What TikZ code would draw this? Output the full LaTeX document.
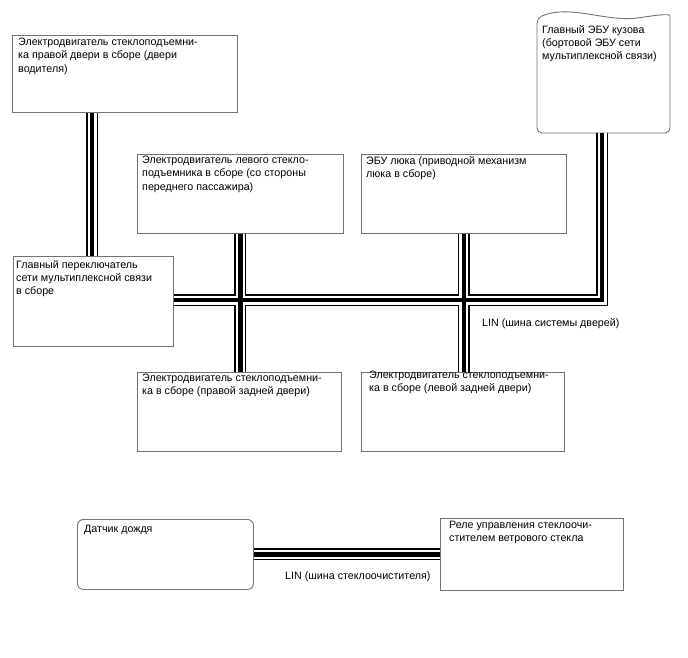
\documentclass[tikz,border=0pt]{standalone}
\usepackage{fontspec}
\setmainfont{Liberation Sans}
\tikzset{
  boxline/.style={draw=black!55, line width=0.9pt},
  box/.style={boxline, rectangle, inner sep=0pt, anchor=north west},
  txt/.style={anchor=north west, inner sep=0pt, align=left, font=\fontsize{10.7}{13.2}\selectfont},
  lbl/.style={anchor=base west, inner sep=0pt, font=\fontsize{10.7}{13.2}\selectfont},
  busouter/.style={draw=black, line width=12pt, line join=miter, line cap=butt},
  busgap/.style={draw=white, line width=9pt, line join=miter, line cap=butt},
  businner/.style={draw=black, line width=4.5pt, line join=miter, line cap=butt},
}
\newcommand\busnet[1]{%
  \draw[#1] ([xshift=80pt]A.south west) -- ([xshift=80pt]A.south west |- B.north);
  \draw[#1] (B.east |- J) -- (J) -- (J |- E.south);
  \draw[#1] (C.south) -- (C.south |- F.north);
  \draw[#1] (D.south) -- (D.south |- G.north);
  \draw[#1] (H.east) -- (I.west);
}
\begin{document}
\begin{tikzpicture}[x=1pt,y=-1pt]
\useasboundingbox[fill=white] (0,0) rectangle (688,658);
% boxes
\node[box, minimum width=225pt, minimum height=77pt] (A) at (12,35) {};
\node[box, minimum width=160pt, minimum height=90pt] (B) at (13,256) {};
\node[box, minimum width=206pt, minimum height=79pt] (C) at (137,154) {};
\node[box, minimum width=205pt, minimum height=79pt] (D) at (361,154) {};
\node[box, minimum width=204pt, minimum height=79pt] (F) at (137,372) {};
\node[box, minimum width=203pt, minimum height=79pt] (G) at (361,372) {};
\node[box, minimum width=176pt, minimum height=70pt, rounded corners=6pt] (H) at (77,519) {};
\node[box, minimum width=183pt, minimum height=72pt] (I) at (440,518) {};
% wavy ECU box
\node[inner sep=0pt, minimum width=133pt, minimum height=118pt, anchor=north west] (E) at (537,15) {};
\draw[boxline] (537,18) .. controls (570,4) and (605,22) .. (637,18)
  .. controls (652,16) and (662,14) .. (670,15)
  [rounded corners=5pt] -- (670,133) -- (537,133) -- cycle;
\coordinate (J) at (602,300);
% buses
\busnet{busouter}
\busnet{busgap}
\busnet{businner}
% texts
\node[txt] (tA) at ([shift={(6,3)}]A.north west) {Электродвигатель стеклоподъемни-\\ка правой двери в сборе (двери\\водителя)};
\node[txt] (tB) at ([shift={(3,4)}]B.north west) {Главный переключатель\\сети мультиплексной связи\\в сборе};
\node[txt] (tC) at ([shift={(5,2)}]C.north west) {Электродвигатель левого стекло-\\подъемника в сборе (со стороны\\переднего пассажира)};
\node[txt] (tD) at ([shift={(5,2)}]D.north west) {ЭБУ люка (приводной механизм\\люка в сборе)};
\node[txt] (tE) at (542,25) {Главный ЭБУ кузова\\(бортовой ЭБУ сети\\мультиплексной связи)};
\node[txt] (tF) at ([shift={(5,2)}]F.north west) {Электродвигатель стеклоподъемни-\\ка в сборе (правой задней двери)};
\node[txt] (tG) at ([shift={(8,-1)}]G.north west) {Электродвигатель стеклоподъемни-\\ка в сборе (левой задней двери)};
\node[txt] (tH) at ([shift={(7,6)}]H.north west) {Датчик дождя};
\node[txt] (tI) at ([shift={(9,3)}]I.north west) {Реле управления стеклоочи-\\стителем ветрового стекла};
\node[lbl] (l1) at (482,326) {LIN (шина системы дверей)};
\node[lbl] (l2) at (285,579) {LIN (шина стеклоочистителя)};
\end{tikzpicture}
\end{document}
